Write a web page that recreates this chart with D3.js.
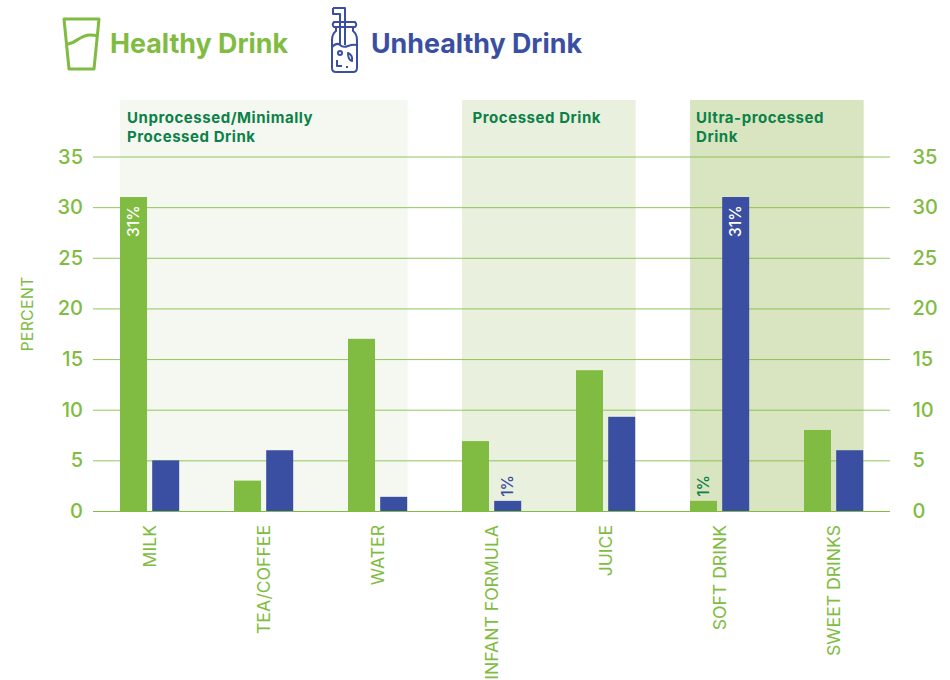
<!DOCTYPE html>
<html><head><meta charset="utf-8">
<style>html,body{margin:0;padding:0;background:#fff;overflow:hidden}svg{display:block}text{font-family:Inter,"Open Sans",sans-serif}</style>
<script src="https://cdn.jsdelivr.net/npm/d3@7/dist/d3.min.js"></script>
</head><body><svg id="c" width="950" height="680"></svg>
<script>
const categories=["MILK","TEA/COFFEE","WATER","INFANT FORMULA","JUICE","SOFT DRINK","SWEET DRINKS"];
const healthy=[31,3,17,6.9,13.9,1,8];
const unhealthy=[5,6,1.4,1,9.3,31,6];
const yTicks=[0,5,10,15,20,25,30,35];
const bandNames=[["Unprocessed/Minimally","Processed Drink"],["Processed Drink"],["Ultra-processed","Drink"]];
const bandFirst=[0,3,5];
const bandLast=[2,4,6];
const bandFill=["#f5f8f1","#e9f0dd","#d8e5c0"];
const valueLabels=[
 {cat:0,series:"h",text:"31%",inside:true,color:"#fff"},
 {cat:5,series:"u",text:"31%",inside:true,color:"#fff"},
 {cat:3,series:"u",text:"1%",inside:false,color:"#3a4fa2"},
 {cat:5,series:"h",text:"1%",inside:false,color:"#0b8148"}
];
const GREEN="#80bc41",BLUE="#3a4fa2",DARK="#0b8148";
const svg=d3.select("#c");
const y=d3.scaleLinear().domain([0,35]).range([511,156.5]);
const x0=d3.scaleBand().domain(categories).range([120,918]).paddingInner(0).paddingOuter(0);
const bw=27;
const xS={h:c=>x0(c),u:c=>x0(c)+32.2};
const bands=svg.append("g");
bandNames.forEach((n,i)=>{
 const l=x0(categories[bandFirst[i]]),r=xS.u(categories[bandLast[i]])+bw+.5;
 bands.append("rect").attr("x",l).attr("y",100).attr("width",r-l).attr("height",411).attr("fill",bandFill[i]);
 const tx=i==1?l+10.5:l+(i==0?7:6);
 n.forEach((t,j)=>bands.append("text").attr("x",tx).attr("y",123+j*19).attr("font-size",15).attr("font-weight",700).attr("letter-spacing",.55).attr("fill",DARK).text(t));
});
// gridlines
svg.append("g").attr("transform","translate(890,0)").call(d3.axisRight(y).tickValues(yTicks).tickSize(-797).tickFormat(""))
 .call(g=>g.select(".domain").remove())
 .call(g=>g.selectAll("line").attr("stroke",GREEN).attr("stroke-width",1).attr("opacity",d=>d==0?1:.85));
// axis numbers
[[83,"end"],[912.5,"start"]].forEach(([px,a])=>{
 svg.append("g").selectAll("text").data(yTicks).join("text")
  .attr("x",px).attr("y",d=>y(d)+7).attr("text-anchor",a).attr("font-size",20).attr("font-weight",500).attr("fill",GREEN).text(d=>d);
});
svg.append("text").attr("transform","translate(33,314) rotate(-90)").attr("text-anchor","middle").attr("font-size",16).attr("letter-spacing",.2).attr("fill",GREEN).text("PERCENT");
// bars
svg.append("g").selectAll("rect").data(categories.map((c,i)=>({c,v:healthy[i]}))).join("rect")
 .attr("x",d=>xS.h(d.c)).attr("y",d=>y(d.v)).attr("width",bw).attr("height",d=>y(0)-y(d.v)).attr("fill",GREEN);
svg.append("g").selectAll("rect").data(categories.map((c,i)=>({c,v:unhealthy[i]}))).join("rect")
 .attr("x",d=>xS.u(d.c)).attr("y",d=>y(d.v)).attr("width",bw).attr("height",d=>y(0)-y(d.v)).attr("fill",BLUE);
// value labels
valueLabels.forEach(v=>{
 const c=categories[v.cat],val=(v.series=="h"?healthy:unhealthy)[v.cat];
 const cx=xS[v.series](c)+bw/2;
 const py=v.inside?y(val)+40:y(val)-4;
 svg.append("text").attr("transform",`translate(${cx+5.5},${py}) rotate(-90)`).attr("font-size",15.5).attr("font-weight",500).attr("fill",v.color).text(v.text);
});
// category labels
svg.append("g").selectAll("text").data(categories).join("text")
 .attr("transform",c=>`translate(${x0(c)+35.5},525) rotate(-90)`).attr("text-anchor","end").attr("font-size",17.6).attr("fill",GREEN).text(c=>c);
// legend
svg.append("text").attr("x",110).attr("y",53).attr("font-size",26.8).attr("font-weight",700).attr("fill",GREEN).text("Healthy Drink");
svg.append("text").attr("x",371).attr("y",53).attr("font-size",26.8).attr("font-weight",700).attr("fill",BLUE).text("Unhealthy Drink");
const g1=svg.append("g").attr("fill","none").attr("stroke",GREEN).attr("stroke-width",3).attr("stroke-linejoin","round");
g1.append("path").attr("d","M64 19H99L94 69H69Z");
g1.append("path").attr("d","M67 44C75 44 80 35 90 35C93 35 95 35 98 36");
const g2=svg.append("g").attr("fill","none").attr("stroke",BLUE).attr("stroke-width",2).attr("stroke-linejoin","round");
g2.append("path").attr("d","M333 8H345V45M333 8V14H340V45");
g2.append("path").attr("d","M334 22H355Q357.500 25 355 27H334Q331.500 25 334 22Z");
g2.append("path").attr("d","M336 27V31Q332 34 332 40V68Q332 72 336 72H353Q357 72 357 68V40Q357 34 353 31V27");
g2.append("path").attr("d","M332 47Q337 42 340 45T348 46T357 45");
g2.append("circle").attr("cx",340).attr("cy",53).attr("r",2);
g2.append("path").attr("d","M348 53Q353 55 352 61Q348 60 348 53Z");
g2.append("path").attr("d","M337 60V66H342M346 67H348");
</script></body></html>
